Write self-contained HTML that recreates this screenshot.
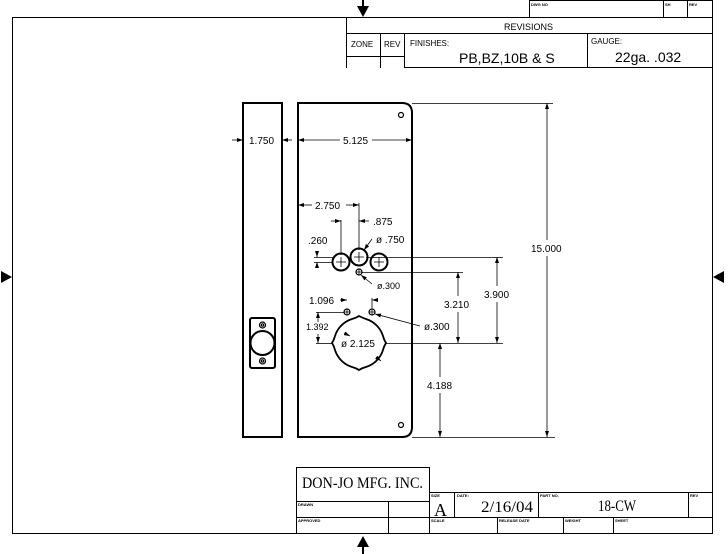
<!DOCTYPE html>
<html><head><meta charset="utf-8"><style>
html,body{margin:0;padding:0;background:#fff;}
svg{display:block;}
text{font-family:"Liberation Sans",sans-serif;fill:#000;}
text.serif{font-family:"Liberation Serif",serif;}
</style></head><body>
<svg width="728" height="554" viewBox="0 0 728 554" xmlns="http://www.w3.org/2000/svg">
<defs>
<marker id="a" markerWidth="6" markerHeight="6" refX="6" refY="3" orient="auto" markerUnits="userSpaceOnUse"><path d="M0,1 L6,3 L0,5z" fill="#000"/></marker>
</defs>
<g fill="none" stroke="#000" stroke-width="1">
<rect x="12.5" y="17.5" width="700" height="516"/>
<rect x="529.5" y="0.5" width="183" height="17"/>
<line x1="663.5" y1="0" x2="663.5" y2="17"/>
<line x1="687.5" y1="0" x2="687.5" y2="17"/>
<line x1="346.5" y1="17" x2="346.5" y2="68"/>
<line x1="346" y1="33.5" x2="713" y2="33.5"/>
<line x1="346" y1="56.5" x2="404" y2="56.5"/>
<line x1="380.5" y1="33" x2="380.5" y2="68"/>
<rect x="404.5" y="33.5" width="308" height="34"/>
<line x1="587.5" y1="33" x2="587.5" y2="68"/>
<rect x="296.5" y="467.5" width="133" height="66"/>
<line x1="296" y1="501.5" x2="429" y2="501.5"/>
<line x1="296" y1="517.5" x2="713" y2="517.5"/>
<line x1="388.5" y1="501" x2="388.5" y2="533"/>
<line x1="429" y1="492.5" x2="713" y2="492.5"/>
<line x1="454.5" y1="492" x2="454.5" y2="517"/>
<line x1="538.5" y1="492" x2="538.5" y2="517"/>
<line x1="688.5" y1="492" x2="688.5" y2="517"/>
<line x1="497.5" y1="517" x2="497.5" y2="533"/>
<line x1="563.5" y1="517" x2="563.5" y2="533"/>
<line x1="613.5" y1="517" x2="613.5" y2="533"/>
</g>
<g fill="#000">
<path d="M357,6 L369,6 L363,17z"/><rect x="362" y="0" width="2" height="7"/>
<path d="M357,547 L369,547 L363,536z"/><rect x="362" y="546" width="2" height="8"/>
<path d="M1,271 L1,283 L12,277z"/>
<path d="M724,271 L724,283 L713,277z"/>
</g>
<g fill="none" stroke="#000" stroke-width="2">
<rect x="243" y="103" width="39" height="334"/>
<path d="M298,103 L402,103 Q412,103 412,113 L412,427 Q412,437 402,437 L298,437z"/>
<rect x="250" y="318" width="25" height="50" rx="2"/>
<circle cx="262.5" cy="343" r="12"/>
<circle cx="341" cy="262" r="8.5"/>
<circle cx="359" cy="257" r="8.5"/>
<circle cx="379" cy="262" r="8.5"/>
<path d="M359,316 Q363,318 366,319 A26,26 0 0 1 383,336 Q384,340 386,343 Q384,346 383,350 A26,26 0 0 1 366,367 Q362,368 359,370 Q356,368 352,367 A26,26 0 0 1 335,350 Q334,346 332,343 Q334,340 335,336 A26,26 0 0 1 352,319 Q356,318 359,316z" stroke-width="1.8"/>
</g>
<g fill="none" stroke="#000" stroke-width="1.2">
<circle cx="401" cy="115" r="2.5"/><circle cx="401" cy="425" r="2.5"/>
<circle cx="262.5" cy="325" r="3"/><circle cx="262.5" cy="325" r="1.2"/>
<circle cx="262.5" cy="361" r="3"/><circle cx="262.5" cy="361" r="1.2"/>
<circle cx="359" cy="272" r="3"/><circle cx="347" cy="312" r="3"/><circle cx="372" cy="312" r="3"/>
<path d="M341,257v10M336,262h10M359,252v10M354,257h10M379,257v10M374,262h10M356,272h6M359,269v6M344,312h6M347,309v6M369,312h6M372,309v6" stroke-width="0.8"/>
</g>
<g fill="none" stroke="#000" stroke-width="0.8">
<line x1="232" y1="140" x2="243" y2="140" marker-end="url(#a)"/>
<line x1="292" y1="140" x2="282" y2="140" marker-end="url(#a)"/>
<line x1="340" y1="140" x2="298" y2="140" marker-end="url(#a)"/>
<line x1="372" y1="140" x2="412" y2="140" marker-end="url(#a)"/>
<line x1="412" y1="103.5" x2="553" y2="103.5"/>
<line x1="412" y1="437.5" x2="555" y2="437.5"/>
<line x1="547" y1="240" x2="547" y2="103" marker-end="url(#a)"/>
<line x1="547" y1="256" x2="547" y2="437" marker-end="url(#a)"/>
<line x1="366" y1="257.5" x2="503" y2="257.5"/>
<line x1="362" y1="272.5" x2="463" y2="272.5"/>
<line x1="386" y1="343.5" x2="503" y2="343.5"/>
<line x1="497" y1="286" x2="497" y2="257" marker-end="url(#a)"/>
<line x1="497" y1="302" x2="497" y2="343" marker-end="url(#a)"/>
<line x1="458" y1="296" x2="458" y2="272" marker-end="url(#a)"/>
<line x1="458" y1="312" x2="458" y2="343" marker-end="url(#a)"/>
<line x1="440" y1="377" x2="440" y2="343" marker-end="url(#a)"/>
<line x1="440" y1="393" x2="440" y2="437" marker-end="url(#a)"/>
<line x1="312" y1="205" x2="298" y2="205" marker-end="url(#a)"/>
<line x1="346" y1="205" x2="359" y2="205" marker-end="url(#a)"/>
<line x1="359" y1="203" x2="359" y2="250"/>
<line x1="341" y1="220" x2="341" y2="255"/>
<line x1="331" y1="221" x2="341" y2="221" marker-end="url(#a)"/>
<line x1="369" y1="221" x2="359" y2="221" marker-end="url(#a)"/>
<line x1="317" y1="252" x2="317" y2="257" marker-end="url(#a)"/>
<line x1="317" y1="267" x2="317" y2="262" marker-end="url(#a)"/>
<line x1="314" y1="257.5" x2="333" y2="257.5"/>
<line x1="314" y1="262.5" x2="333" y2="262.5"/>
<line x1="372" y1="239" x2="364" y2="250" marker-end="url(#a)"/>
<line x1="372" y1="284" x2="361" y2="275" marker-end="url(#a)"/>
<line x1="340" y1="300" x2="347" y2="300" marker-end="url(#a)"/>
<line x1="378" y1="300" x2="372" y2="300" marker-end="url(#a)"/>
<line x1="372" y1="298" x2="372" y2="308"/>
<line x1="316" y1="312.5" x2="344" y2="312.5"/>
<line x1="316" y1="343.5" x2="332" y2="343.5"/>
<line x1="318" y1="322" x2="318" y2="312" marker-end="url(#a)"/>
<line x1="318" y1="334" x2="318" y2="343" marker-end="url(#a)"/>
<line x1="420" y1="326" x2="375" y2="314" marker-end="url(#a)"/>
<line x1="344" y1="333" x2="350" y2="336" marker-end="url(#a)"/>
<line x1="376" y1="357" x2="381" y2="361" marker-end="url(#a)"/>
</g>
<g font-size="10">
<text x="249" y="144">1.750</text>
<text x="343" y="144">5.125</text>
<text x="531" y="252">15.000</text>
<text x="484" y="298">3.900</text>
<text x="444" y="308">3.210</text>
<text x="427" y="389">4.188</text>
<text x="315" y="209">2.750</text>
<text x="373" y="225">.875</text>
<text x="308" y="244">.260</text>
<text x="376" y="243">ø .750</text>
<text x="377" y="289" font-size="9">ø.300</text>
<text x="309" y="304">1.096</text>
<text x="306" y="330" font-size="9">1.392</text>
<text x="424" y="330">ø.300</text>
<text x="341" y="347">ø 2.125</text>
<text x="504" y="30" font-size="9">REVISIONS</text>
<text x="351" y="47" font-size="8">ZONE</text>
<text x="384" y="47" font-size="8">REV</text>
<text x="410" y="46" font-size="8">FINISHES:</text>
<text x="591" y="44" font-size="8">GAUGE:</text>
<text x="459" y="63" font-size="14">PB,BZ,10B &amp; S</text>
<text x="615" y="62" font-size="14">22ga.  .032</text>
</g>
<g font-size="4" font-weight="bold">
<text x="531" y="6">DWG NO</text><text x="665" y="6">SH</text><text x="689" y="6">REV</text>
<text x="298" y="506">DRAWN</text><text x="298" y="522">APPROVED</text>
<text x="431" y="497">SIZE</text><text x="457" y="497">DATE:</text><text x="540" y="497">PART NO.</text><text x="690" y="497">REV</text>
<text x="431" y="522">SCALE</text><text x="499" y="522">RELEASE DATE</text><text x="565" y="522">WEIGHT</text><text x="615" y="522">SHEET</text>
</g>
<text class="serif" x="302" y="488" font-size="16" textLength="121" lengthAdjust="spacingAndGlyphs">DON-JO MFG. INC.</text>
<text class="serif" x="434" y="516" font-size="18">A</text>
<text class="serif" x="481" y="512" font-size="16" textLength="52" lengthAdjust="spacingAndGlyphs">2/16/04</text>
<text class="serif" x="598" y="511" font-size="16" textLength="38" lengthAdjust="spacingAndGlyphs">18-CW</text>
</svg>
</body></html>
